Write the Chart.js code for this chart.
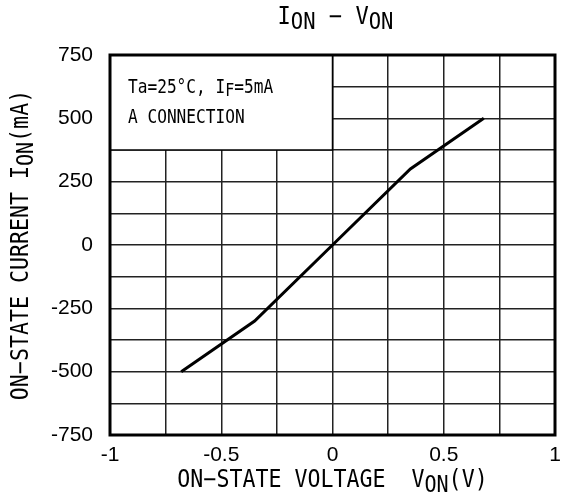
<!DOCTYPE html>
<html>
<head>
<meta charset="utf-8">
<script src="https://cdn.jsdelivr.net/npm/chart.js@4.4.1/dist/chart.umd.min.js"></script>
<style>
  html, body { margin: 0; padding: 0; background: #fff; }
</style>
</head>
<body>
<canvas id="myChart" width="561" height="499"></canvas>
<script>
// data
const voltage = [-0.68, -0.35, 0, 0.35, 0.68];
const current = [-500, -300, 0, 300, 500];

const xTickLabels = ['-1', '-0.5', '0', '0.5', '1'];
const yTickLabels = ['-750', '-500', '-250', '0', '250', '500', '750'];

const GOTHIC = '"DejaVu Sans Mono", "Liberation Mono", monospace';

// draw text made of parts, some of them subscripts, condensed horizontally
function richText(ctx, parts, x, y, size, squeeze, align) {
  ctx.save();
  ctx.fillStyle = '#000';
  ctx.textBaseline = 'middle';
  ctx.textAlign = 'left';
  let total = 0;
  parts.forEach(p => {
    ctx.font = (p.sub ? size * 0.93 : size) + 'px ' + GOTHIC;
    p.w = ctx.measureText(p.t).width;
    total += p.w;
  });
  ctx.translate(x, y);
  ctx.scale(squeeze, 1);
  let cx = align === 'left' ? 0 : -total / 2;
  parts.forEach(p => {
    ctx.font = (p.sub ? size * 0.93 : size) + 'px ' + GOTHIC;
    ctx.fillText(p.t, cx, p.sub ? size * 0.2 : 0);
    cx += p.w;
  });
  ctx.restore();
}

const sheet = {
  id: 'sheet',
  beforeDatasetsDraw(chart) {
    const { ctx, scales: { x, y } } = chart;
    // the condition box in the upper left corner
    const l = x.getPixelForValue(-1), r = x.getPixelForValue(0);
    const t = y.getPixelForValue(750), b = y.getPixelForValue(375);
    ctx.save();
    ctx.fillStyle = '#fff';
    ctx.fillRect(l, t, r - l, b - t);
    ctx.strokeStyle = '#000';
    ctx.lineWidth = 1.5;
    ctx.strokeRect(l, t, r - l, b - t);
    ctx.restore();
    richText(ctx, [{ t: 'Ta=25°C, I' }, { t: 'F', sub: true }, { t: '=5mA' }], l + 18, t + 33, 19, 0.85, 'left');
    richText(ctx, [{ t: 'A CONNECTION' }], l + 18, t + 63, 19, 0.85, 'left');
  },
  afterDatasetsDraw(chart) {
    const { ctx, chartArea: a } = chart;
    ctx.save();
    ctx.strokeStyle = '#000';
    ctx.lineWidth = 3;
    ctx.strokeRect(a.left, a.top, a.right - a.left, a.bottom - a.top);
    ctx.restore();
  },
  afterDraw(chart) {
    const { ctx, chartArea: a } = chart;
    const mid = (a.left + a.right) / 2;
    richText(ctx, [{ t: 'I' }, { t: 'ON', sub: true }, { t: ' − V' }, { t: 'ON', sub: true }], mid + 3, 18, 24, 0.92, 'center');
    richText(ctx, [{ t: 'ON−STATE VOLTAGE  V' }, { t: 'ON', sub: true }, { t: '(V)' }], mid, 481, 24, 0.9, 'center');
    ctx.save();
    ctx.translate(22, (a.top + a.bottom) / 2);
    ctx.rotate(-Math.PI / 2);
    richText(ctx, [{ t: 'ON−STATE CURRENT I' }, { t: 'ON', sub: true }, { t: '(mA)' }], 0, 0, 24, 0.9, 'center');
    ctx.restore();
  }
};

const grid = {
  color: '#222',
  lineWidth: 1.5,
  drawTicks: false
};

const config = {
  type: 'scatter',
  data: {
    datasets: [{
      data: voltage.map((v, i) => ({ x: v, y: current[i] })),
      showLine: true,
      borderColor: '#000',
      borderWidth: 3,
      pointRadius: 0,
      tension: 0
    }]
  },
  options: {
    responsive: false,
    animation: false,
    layout: {
      padding: { top: 55, right: 6, left: 0, bottom: 0 }
    },
    plugins: {
      legend: { display: false },
      tooltip: { enabled: false }
    },
    scales: {
      x: {
        min: -1,
        max: 1,
        grid: grid,
        border: { display: false },
        afterFit: s => { s.height = 64; s.paddingLeft = 0; s.paddingRight = 0; },
        afterBuildTicks: s => {
          s.ticks = [];
          for (let k = 0; k <= 8; k++) s.ticks.push({ value: -1 + k * 0.25 });
        },
        ticks: {
          color: '#000',
          padding: 8,
          maxRotation: 0,
          autoSkip: false,
          font: { family: '"Liberation Sans", Arial, sans-serif', size: 21 },
          callback: (v, i) => (i % 2 === 0 ? xTickLabels[i / 2] : '')
        }
      },
      y: {
        min: -750,
        max: 750,
        grid: grid,
        border: { display: false },
        afterFit: s => { s.width = 110; s.paddingTop = 0; s.paddingBottom = 0; },
        afterBuildTicks: s => {
          s.ticks = [];
          for (let k = 0; k <= 12; k++) s.ticks.push({ value: -750 + k * 125 });
        },
        ticks: {
          color: '#000',
          padding: 17,
          autoSkip: false,
          font: { family: '"Liberation Sans", Arial, sans-serif', size: 21 },
          callback: (v, i) => (i % 2 === 0 ? yTickLabels[i / 2] : '')
        }
      }
    }
  },
  plugins: [sheet]
};

const myChart = new Chart(document.getElementById('myChart').getContext('2d'), config);
</script>
</body>
</html>
